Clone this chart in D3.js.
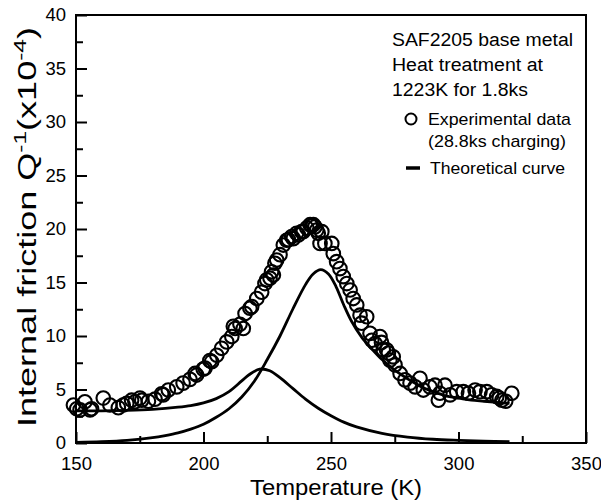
<!DOCTYPE html>
<html>
<head>
<meta charset="utf-8">
<script src="https://cdn.jsdelivr.net/npm/d3@7/dist/d3.min.js"></script>
<style>
  html, body { margin: 0; padding: 0; background: #fff; }
  svg { display: block; font-family: "Liberation Sans", Arial, sans-serif; }
</style>
</head>
<body>
<svg id="chart" width="601" height="502"></svg>
<script>
// ---- Data ----
const xTicksMajor = [150, 200, 250, 300, 350];
const xTicksMinor = [175, 225, 275, 325];
const yTicksMajor = [0, 5, 10, 15, 20, 25, 30, 35, 40];
const yTicksMinor = [2.5, 7.5, 12.5, 17.5, 22.5, 27.5, 32.5, 37.5];

// Experimental data (28.8ks charging)
const expT = [149, 150.3, 151.6, 153.5, 155.5, 156.1, 160.7, 163.3, 166.6, 168.5, 169.9, 171.8, 173.1, 175.1, 175.8,
  178.4, 181, 183.6, 184.2, 186.2, 189.5, 192, 194.7, 196.7, 197.3, 199.9, 200.6, 202.5, 203.2, 205.2, 207.1,
  209.1, 211.1, 211.7, 212.4, 214.3, 215.6, 216.3, 218.2, 218.9, 220.9, 222.8, 224.1, 224.8, 226.1, 226.7,
  227.4, 228, 228.7, 230, 231.3, 232.6, 233.3, 234.6, 235.2, 236.5, 237.2, 238.5, 239.1, 240.5, 241.8, 242.4,
  243.1, 243.7, 244.4, 245, 245.7, 246.4, 247.6, 250.3, 250.9, 252.2, 253.5, 254.8, 256.2, 257.5, 258.7, 260.1,
  261.4, 262, 264, 265.3, 266, 267.3, 269.2, 269.8, 270.5, 271.8, 272.5, 273.1, 274.4, 275.1, 277.1, 279, 281,
  283, 284.9, 286.2, 288.8, 290.8, 292.1, 292.7, 294.7, 296.7, 299.3, 301.9, 303.9, 306.5, 308.4, 311.1, 313,
  315, 316, 317, 318.5, 320.9];
const expQ = [3.55, 3.2, 3.1, 3.85, 3.1, 3.2, 4.2, 3.55, 3.3, 3.55, 3.7, 4.0, 3.85, 4.2, 4.0,
  3.9, 4.1, 4.6, 4.5, 4.95, 5.25, 5.6, 5.95, 6.5, 6.35, 6.9, 7.0, 7.7, 7.6, 8.2, 8.85,
  9.45, 9.95, 10.9, 10.7, 11.1, 10.7, 12.1, 12.6, 12.75, 13.5, 14.1, 14.9, 15.25, 15.4, 16.0,
  15.7, 16.8, 17.1, 17.6, 18.5, 18.95, 19.0, 19.3, 19.1, 19.6, 19.45, 19.75, 19.75, 20.1, 20.4, 20.3,
  20.4, 20.2, 19.9, 19.6, 18.65, 19.75, 18.65, 18.65, 17.7, 16.95, 16.3, 15.55, 14.9, 14.3, 13.5, 12.9,
  11.95, 11.2, 11.8, 10.25, 9.6, 9.3, 9.95, 9.4, 8.7, 8.7, 8.4, 7.75, 8.05, 7.3, 6.5, 5.9, 5.6,
  5.25, 6.05, 4.95, 5.25, 5.4, 4.0, 4.65, 5.4, 4.5, 4.8, 4.8, 4.65, 4.95, 4.8, 4.8, 4.5,
  4.35, 4.2, 4.0, 3.9, 4.65];

// Theoretical curve 1 (background + low-temperature peak)
const th1T = [150, 160, 170, 180, 190, 195, 200, 205, 210, 215, 218, 222, 226, 230, 235, 240, 245, 250, 255, 260, 270, 280, 290, 300, 310, 320];
const th1Q = [3.0, 3.0, 3.05, 3.15, 3.35, 3.5, 3.75, 4.15, 4.8, 5.8, 6.4, 6.9, 6.75, 6.1, 5.1, 4.1, 3.25, 2.55, 1.95, 1.5, 0.9, 0.55, 0.35, 0.25, 0.18, 0.12];

// Theoretical curve 2 (main peak)
const th2T = [150, 160, 170, 180, 185, 190, 195, 200, 205, 210, 215, 220, 225, 230, 235, 240, 243, 246, 249, 252, 255, 258, 262, 266, 270, 275, 280, 285, 290, 295, 300, 305, 310, 315, 320];
const th2Q = [0.05, 0.12, 0.25, 0.5, 0.7, 0.95, 1.3, 1.75, 2.4, 3.2, 4.3, 5.8, 7.8, 10.0, 12.5, 14.8, 15.8, 16.2, 15.8, 14.6, 12.9, 11.4, 9.9, 8.8, 7.8, 6.8, 6.0, 5.3, 4.8, 4.4, 4.2, 4.0, 3.9, 3.8, 3.7];

const legendNotes = ["SAF2205 base metal", "Heat treatment at", "1223K for 1.8ks"];
const legendNoteWidths = [181, 151, 136];

// ---- Chart ----
const svg = d3.select("#chart");
const x = d3.scaleLinear().domain([150, 350]).range([76, 586]);
const y = d3.scaleLinear().domain([0, 40]).range([443, 15]);
const ink = "#000";

// Curves
const line = d3.line().x(d => x(d[0])).y(d => y(d[1])).curve(d3.curveCatmullRom.alpha(0.5));
[[th1T, th1Q], [th2T, th2Q]].forEach(([ts, qs]) => {
  svg.append("path")
    .attr("d", line(ts.map((t, i) => [t, qs[i]])))
    .attr("fill", "none").attr("stroke", ink).attr("stroke-width", 2.8)
    .attr("stroke-linejoin", "round");
});

// Data circles
svg.append("g").selectAll("circle")
  .data(expT.map((t, i) => [t, expQ[i]]))
  .join("circle")
  .attr("cx", d => x(d[0])).attr("cy", d => y(d[1])).attr("r", 6.8)
  .attr("fill", "none").attr("stroke", ink).attr("stroke-width", 2.1);

// Frame
svg.append("rect").attr("x", x(150)).attr("y", y(40))
  .attr("width", x(350) - x(150)).attr("height", y(0) - y(40))
  .attr("fill", "none").attr("stroke", ink).attr("stroke-width", 2);

// X axis (inward ticks)
const gx = svg.append("g").attr("transform", `translate(0,${y(0)})`);
gx.call(d3.axisBottom(x).tickValues(xTicksMajor).tickSize(-11).tickPadding(14).tickFormat(d3.format("d")));
gx.append("g").call(d3.axisBottom(x).tickValues(xTicksMinor).tickSize(-7).tickFormat(""));
gx.selectAll(".domain").remove();
gx.selectAll(".tick line").attr("stroke", ink).attr("stroke-width", 2);
gx.selectAll(".tick text").attr("font-size", 18.5).attr("fill", ink)
  .attr("font-family", "Liberation Sans, Arial, sans-serif");

// Y axis (inward ticks)
const gy = svg.append("g").attr("transform", `translate(${x(150)},0)`);
gy.call(d3.axisLeft(y).tickValues(yTicksMajor).tickSize(-11).tickPadding(10).tickFormat(d3.format("d")));
gy.append("g").call(d3.axisLeft(y).tickValues(yTicksMinor).tickSize(-7).tickFormat(""));
gy.selectAll(".domain").remove();
gy.selectAll(".tick line").attr("stroke", ink).attr("stroke-width", 2);
gy.selectAll(".tick text").attr("font-size", 18.5).attr("fill", ink)
  .attr("font-family", "Liberation Sans, Arial, sans-serif");

// Axis titles
svg.append("text").attr("x", 336).attr("y", 495)
  .attr("text-anchor", "middle").attr("font-size", 22).attr("fill", ink)
  .attr("textLength", 172).attr("lengthAdjust", "spacingAndGlyphs")
  .text("Temperature (K)");

const yt = svg.append("text")
  .attr("transform", `translate(36,${227}) rotate(-90)`)
  .attr("text-anchor", "middle").attr("font-size", 25).attr("fill", ink)
  .attr("textLength", 400).attr("lengthAdjust", "spacingAndGlyphs");
yt.append("tspan").text("Internal friction Q");
yt.append("tspan").attr("dy", -10).attr("font-size", 17).text("-1");
yt.append("tspan").attr("dy", 10).text("(x10");
yt.append("tspan").attr("dy", -10).attr("font-size", 17).text("-4");
yt.append("tspan").attr("dy", 10).text(")");

// Legend notes
legendNotes.forEach((s, i) => {
  svg.append("text").attr("x", 392).attr("y", 46 + i * 25)
    .attr("font-size", 18).attr("fill", ink)
    .attr("textLength", legendNoteWidths[i]).attr("lengthAdjust", "spacingAndGlyphs").text(s);
});
svg.append("circle").attr("cx", 411).attr("cy", 119).attr("r", 5.5)
  .attr("fill", "none").attr("stroke", ink).attr("stroke-width", 2);
svg.append("text").attr("x", 428).attr("y", 125).attr("font-size", 17).attr("fill", ink)
  .attr("textLength", 143).attr("lengthAdjust", "spacingAndGlyphs").text("Experimental data");
svg.append("text").attr("x", 428).attr("y", 147).attr("font-size", 17).attr("fill", ink)
  .attr("textLength", 138).attr("lengthAdjust", "spacingAndGlyphs").text("(28.8ks charging)");
svg.append("line").attr("x1", 406).attr("x2", 420).attr("y1", 168).attr("y2", 168)
  .attr("stroke", ink).attr("stroke-width", 3.5);
svg.append("text").attr("x", 430).attr("y", 174).attr("font-size", 17).attr("fill", ink)
  .attr("textLength", 135).attr("lengthAdjust", "spacingAndGlyphs").text("Theoretical curve");
</script>
</body>
</html>
